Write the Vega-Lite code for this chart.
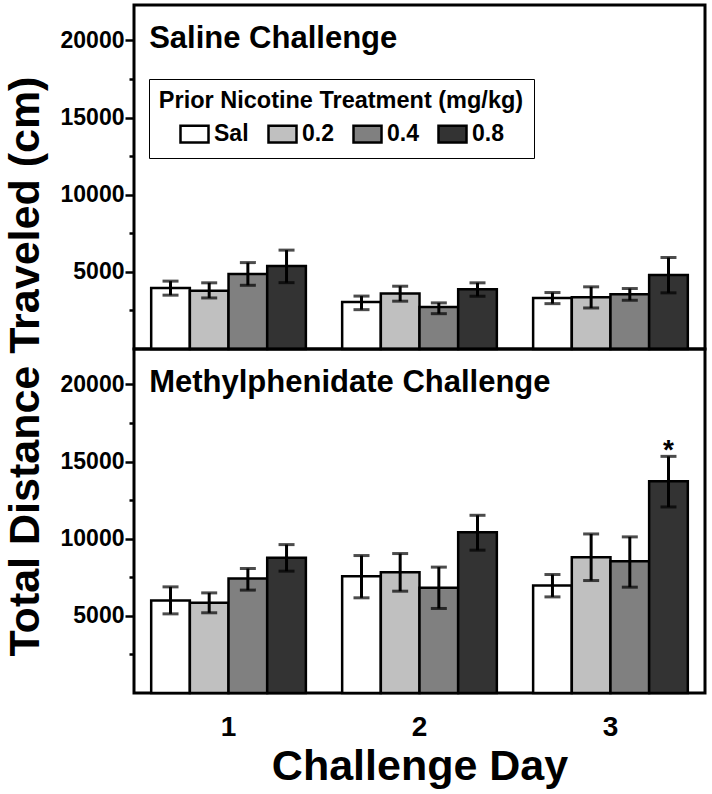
{
  "$schema": "https://vega.github.io/schema/vega-lite/v6.json",
  "padding": {"left": 2, "top": 3, "right": 5, "bottom": 2},
  "bounds": "flush",
  "config": {
    "font": "Liberation Sans",
    "view": {"stroke": "black", "strokeWidth": 3},
    "axis": {"labelColor": "black", "titleColor": "black", "tickColor": "black", "grid": false}
  },
  "datasets": {
    "saline": [
      {"day": "1", "dose": "Sal", "mean": 3950, "lo": 3490, "hi": 4400},
      {"day": "1", "dose": "0.2", "mean": 3780, "lo": 3310, "hi": 4290},
      {"day": "1", "dose": "0.4", "mean": 4870, "lo": 4130, "hi": 5600},
      {"day": "1", "dose": "0.8", "mean": 5380, "lo": 4300, "hi": 6410},
      {"day": "2", "dose": "Sal", "mean": 3050, "lo": 2550, "hi": 3430},
      {"day": "2", "dose": "0.2", "mean": 3590, "lo": 3100, "hi": 4070},
      {"day": "2", "dose": "0.4", "mean": 2720, "lo": 2290, "hi": 2990},
      {"day": "2", "dose": "0.8", "mean": 3870, "lo": 3420, "hi": 4290},
      {"day": "3", "dose": "Sal", "mean": 3310, "lo": 2940, "hi": 3660},
      {"day": "3", "dose": "0.2", "mean": 3350, "lo": 2660, "hi": 4030},
      {"day": "3", "dose": "0.4", "mean": 3550, "lo": 3160, "hi": 3920},
      {"day": "3", "dose": "0.8", "mean": 4790, "lo": 3640, "hi": 5930}
    ],
    "mph": [
      {"day": "1", "dose": "Sal", "mean": 6000, "lo": 5130, "hi": 6880},
      {"day": "1", "dose": "0.2", "mean": 5845, "lo": 5200, "hi": 6490},
      {"day": "1", "dose": "0.4", "mean": 7420, "lo": 6670, "hi": 8070},
      {"day": "1", "dose": "0.8", "mean": 8760, "lo": 7900, "hi": 9620},
      {"day": "2", "dose": "Sal", "mean": 7570, "lo": 6170, "hi": 8910},
      {"day": "2", "dose": "0.2", "mean": 7830, "lo": 6600, "hi": 9040},
      {"day": "2", "dose": "0.4", "mean": 6820, "lo": 5480, "hi": 8160},
      {"day": "2", "dose": "0.8", "mean": 10420, "lo": 9260, "hi": 11520},
      {"day": "3", "dose": "Sal", "mean": 6970, "lo": 6230, "hi": 7680},
      {"day": "3", "dose": "0.2", "mean": 8800, "lo": 7290, "hi": 10310},
      {"day": "3", "dose": "0.4", "mean": 8540, "lo": 6860, "hi": 10120},
      {"day": "3", "dose": "0.8", "mean": 13720, "lo": 12060, "hi": 15340}
    ],
    "sig": [
      {"day": "3", "dose": "0.8", "hi": 15340, "label": "*"}
    ],
    "panels": [
      {"panel": "saline", "label": "Saline Challenge"},
      {"panel": "mph", "label": "Methylphenidate Challenge"}
    ]
  },
  "spacing": 0,
  "resolve": {"scale": {"fill": "independent"}, "legend": {"fill": "independent"}},
  "vconcat": [
    {
      "width": 571,
      "height": 344,
      "encoding": {
        "x": {"field": "day", "type": "nominal", "scale": {"paddingInner": 0.19, "paddingOuter": 0.09}, "axis": null},
        "xOffset": {"field": "dose", "type": "nominal", "sort": ["Sal", "0.2", "0.4", "0.8"], "scale": {"paddingInner": 0, "paddingOuter": 0}}
      },
      "layer": [
        {
          "data": {"name": "saline"},
          "mark": {"type": "bar", "stroke": "black", "strokeWidth": 2.5},
          "encoding": {
            "y": {"field": "mean", "type": "quantitative", "scale": {"domain": [0, 22300], "nice": false},
              "axis": {"title": null, "values": [2500, 5000, 7500, 10000, 12500, 15000, 17500, 20000], "format": "d",
                "labelExpr": "datum.value % 5000 === 0 ? datum.label : ''", "domain": false, "tickWidth": 2.5,
                "tickSize": {"condition": {"test": "datum.value % 5000 === 0", "value": 9}, "value": 5},
                "labelFontSize": 23, "labelFontWeight": "bold", "labelPadding": 1}},
            "fill": {"field": "dose", "type": "nominal", "scale": {"domain": ["Sal", "0.2", "0.4", "0.8"], "range": ["#ffffff", "#c0c0c0", "#808080", "#333333"]},
              "legend": {"orient": "none", "legendX": 15, "legendY": 74, "direction": "horizontal", "columns": 4,
                "title": "Prior Nicotine Treatment (mg/kg)", "titleFontSize": 23.5, "titleFontWeight": "bold", "titleColor": "black",
                "titleAnchor": "middle", "titlePadding": 6, "titleLimit": 600,
                "labelFontSize": 23, "labelFontWeight": "bold", "labelColor": "black", "labelOffset": 4, "columnPadding": 14,
                "symbolType": "M-1,-0.6H1V0.6H-1Z", "symbolSize": 784, "symbolStrokeColor": "black", "symbolStrokeWidth": 2.5, "symbolOpacity": 1,
                "strokeColor": "black", "padding": 10, "fillColor": "white"}}
          }
        },
        {
          "data": {"name": "saline"},
          "mark": {"type": "rule", "color": "black", "strokeWidth": 3},
          "encoding": {"y": {"field": "lo", "type": "quantitative"}, "y2": {"field": "hi"}}
        },
        {
          "data": {"name": "saline"},
          "mark": {"type": "tick", "color": "black", "size": 16, "thickness": 3},
          "encoding": {"y": {"field": "lo", "type": "quantitative"}}
        },
        {
          "data": {"name": "saline"},
          "mark": {"type": "tick", "color": "black", "size": 16, "thickness": 3},
          "encoding": {"y": {"field": "hi", "type": "quantitative"}}
        },
        {
          "data": {"name": "panels"},
          "transform": [{"filter": "datum.panel === 'saline'"}],
          "mark": {"type": "text", "align": "left", "baseline": "alphabetic", "fontSize": 31, "fontWeight": "bold", "color": "black", "dx": -2},
          "encoding": {
            "x": {"datum": "1", "bandPosition": 0},
            "xOffset": null,
            "y": {"datum": 19500, "type": "quantitative"},
            "text": {"field": "label"}
          }
        }
      ]
    },
    {
      "width": 571,
      "height": 344,
      "encoding": {
        "x": {"field": "day", "type": "nominal", "scale": {"paddingInner": 0.19, "paddingOuter": 0.09},
          "axis": {"title": "Challenge Day", "labelAngle": 0, "ticks": false, "domain": false, "labelFontSize": 28, "labelFontWeight": "bold",
            "labelPadding": 20, "titleFontSize": 43, "titleFontWeight": "bold", "titlePadding": 4}},
        "xOffset": {"field": "dose", "type": "nominal", "sort": ["Sal", "0.2", "0.4", "0.8"], "scale": {"paddingInner": 0, "paddingOuter": 0}}
      },
      "layer": [
        {
          "data": {"name": "mph"},
          "mark": {"type": "bar", "stroke": "black", "strokeWidth": 2.5},
          "encoding": {
            "y": {"field": "mean", "type": "quantitative", "scale": {"domain": [0, 22300], "nice": false},
              "axis": {"title": "Total Distance Traveled (cm)", "titleFontSize": 43, "titleFontWeight": "bold", "titleY": 17, "titleX": -109,
                "titleAlign": "center", "titleBaseline": "middle",
                "values": [2500, 5000, 7500, 10000, 12500, 15000, 17500, 20000], "format": "d",
                "labelExpr": "datum.value % 5000 === 0 ? datum.label : ''", "domain": false, "tickWidth": 2.5,
                "tickSize": {"condition": {"test": "datum.value % 5000 === 0", "value": 9}, "value": 5},
                "labelFontSize": 23, "labelFontWeight": "bold", "labelPadding": 1}},
            "fill": {"field": "dose", "type": "nominal", "scale": {"domain": ["Sal", "0.2", "0.4", "0.8"], "range": ["#ffffff", "#c0c0c0", "#808080", "#333333"]}, "legend": null}
          }
        },
        {
          "data": {"name": "mph"},
          "mark": {"type": "rule", "color": "black", "strokeWidth": 3},
          "encoding": {"y": {"field": "lo", "type": "quantitative"}, "y2": {"field": "hi"}}
        },
        {
          "data": {"name": "mph"},
          "mark": {"type": "tick", "color": "black", "size": 16, "thickness": 3},
          "encoding": {"y": {"field": "lo", "type": "quantitative"}}
        },
        {
          "data": {"name": "mph"},
          "mark": {"type": "tick", "color": "black", "size": 16, "thickness": 3},
          "encoding": {"y": {"field": "hi", "type": "quantitative"}}
        },
        {
          "data": {"name": "sig"},
          "mark": {"type": "text", "fontSize": 28, "fontWeight": "bold", "baseline": "alphabetic", "dy": 3, "color": "black"},
          "encoding": {"y": {"field": "hi", "type": "quantitative"}, "text": {"field": "label"}}
        },
        {
          "data": {"name": "panels"},
          "transform": [{"filter": "datum.panel === 'mph'"}],
          "mark": {"type": "text", "align": "left", "baseline": "alphabetic", "fontSize": 31, "fontWeight": "bold", "color": "black", "dx": -2},
          "encoding": {
            "x": {"datum": "1", "bandPosition": 0},
            "xOffset": null,
            "y": {"datum": 19500, "type": "quantitative"},
            "text": {"field": "label"}
          }
        }
      ]
    }
  ]
}
